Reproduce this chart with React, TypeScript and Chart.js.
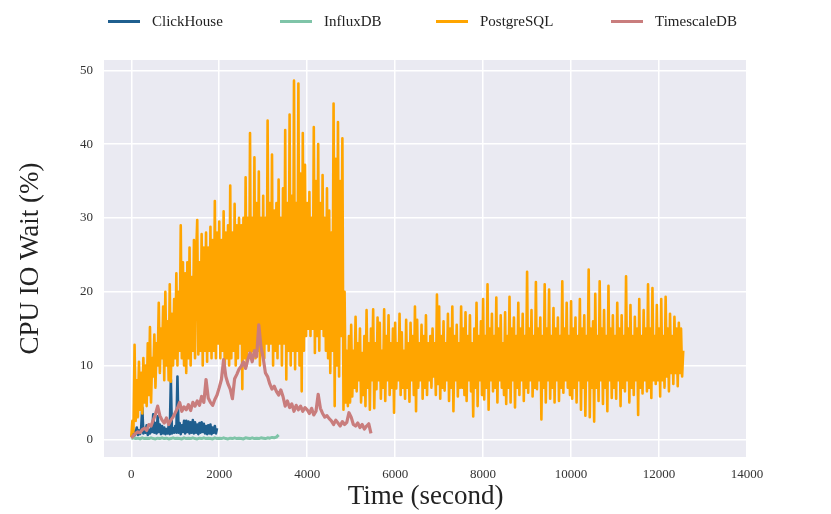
import { useEffect, useRef } from 'react';
import { Chart, registerables } from 'chart.js';

Chart.register(...registerables);

const SERIES_NAMES = ['ClickHouse', 'InfluxDB', 'PostgreSQL', 'TimescaleDB'];
const SERIES_COLORS = ['#1f5f8f', '#7fc4a8', '#ffa500', '#c97d7d'];
// sampling interval (seconds) of each series, in the same order
const SERIES_STEPS = [25, 50, 25, 50];
const SERIES_WIDTHS = [2.6, 3, 2.6, 3.2];

const clickhouse = [
  0.3, 0.8, 1.2, 0.5, 0.9, 1.6, 0.6, 1.2, 0.7, 1.5,
  4.3, 0.8, 1.5, 0.9, 1.9, 0.6, 1.3, 0.8, 1.5, 1.0,
  3.4, 0.9, 2.2, 0.8, 3.1, 1.0, 2.0, 0.7, 1.8, 0.8,
  1.6, 0.7, 1.4, 0.8, 1.8, 0.7, 8.1, 0.8, 1.5, 0.9,
  1.8, 0.9, 8.5, 0.9, 2.2, 0.7, 1.9, 1.0, 2.5, 0.8,
  2.5, 1.0, 2.4, 0.8, 2.3, 0.9, 2.6, 0.8, 2.3, 0.9,
  2.0, 0.7, 2.2, 0.9, 2.3, 1.0, 2.1, 0.8, 1.8, 0.7,
  1.9, 0.8, 2.0, 0.7, 1.6, 0.9, 1.8, 0.8, 1.5,
];

const influxdb = [
  0.1, 0.2, 0.1, 0.15, 0.05, 0.2, 0.1, 0.15, 0.1, 0.2,
  0.1, 0.05, 0.15, 0.1, 0.2, 0.1, 0.15, 0.05, 0.1, 0.2,
  0.1, 0.15, 0.1, 0.05, 0.2, 0.1, 0.15, 0.1, 0.2, 0.1,
  0.05, 0.15, 0.1, 0.2, 0.1, 0.15, 0.1, 0.05, 0.2, 0.1,
  0.15, 0.1, 0.2, 0.1, 0.05, 0.15, 0.1, 0.2, 0.1, 0.15,
  0.1, 0.05, 0.2, 0.15, 0.1, 0.2, 0.1, 0.15, 0.1, 0.2,
  0.15, 0.1, 0.2, 0.15, 0.25, 0.2, 0.3, 0.6,
];

const postgresql = [
  0.3, 2.5, 1.0, 12.8, 2.5, 8, 3, 10.5, 4, 9,
  3.5, 11, 5, 10, 4.5, 13, 6, 15.2, 5, 11,
  8.5, 14.2, 7, 13, 10, 18.5, 9, 15, 11, 18,
  8, 20, 10, 16, 8, 21, 7.8, 17, 10, 19,
  11, 22.5, 10, 20, 12, 29, 11, 24, 10, 22.5,
  9, 24, 11, 26, 10, 22, 12, 27, 11, 25,
  29.7, 11.5, 24, 12, 27.8, 10, 26, 12, 28, 10.5,
  26, 12, 28.8, 11, 27, 12, 32.3, 11, 28, 13,
  29.5, 11, 27, 12, 30.9, 9.5, 28, 11, 29, 10,
  34.4, 11, 28, 12, 31.9, 10, 29, 11, 30, 13,
  29, 6.8, 30, 11, 35.5, 10, 30, 12, 41.5, 11,
  30, 12, 38.2, 11, 32, 12, 36.3, 10, 30, 12,
  33, 11, 30, 13, 43.2, 12, 32, 13, 38.6, 10,
  31, 12, 32, 11, 35.2, 13, 30, 10, 34, 13,
  41.9, 8.1, 32, 12, 44, 10, 33, 12, 48.6, 9.5,
  32, 12, 48.2, 10, 36, 6.5, 41.5, 12, 37.2, 14,
  32, 15, 33.5, 14, 30, 15, 42.3, 11.7, 35, 14,
  40, 12, 32, 15, 35.8, 14, 30, 12, 34, 11,
  31, 9, 28, 12, 45.5, 4.5, 38, 10, 43, 8.5,
  35, 14, 40.8, 4, 20, 5, 12, 4.5, 14, 5,
  15.5, 5.8, 12, 7, 16.6, 6.5, 13, 8, 15, 5,
  11.7, 6, 14, 4.5, 17.5, 7, 13, 4, 15, 8,
  17.6, 4.2, 13, 6.8, 16.5, 8, 15.8, 5.5, 12, 7,
  17.6, 5.2, 14, 8, 16.8, 6, 13, 7, 15, 3.6,
  15.8, 6.9, 13, 8, 17, 6, 14.5, 7, 12, 5.5,
  16.2, 7, 13, 5.1, 15.8, 8, 14, 6, 18, 3.8,
  16.2, 7, 13, 8, 15.5, 5.5, 14, 7, 16.8, 6,
  13, 8, 14, 7, 15, 8.5, 13, 6, 19.6, 7.5,
  18, 5.5, 14, 7, 16, 6.6, 13, 8, 17, 5.2,
  15, 7, 18, 3.8, 14, 8, 15.5, 5.8, 13, 7,
  18, 7, 15, 6, 17.2, 5.2, 14, 8, 16.8, 6.5,
  13, 3.1, 15, 7, 18.5, 4.5, 14, 8, 16, 6,
  19, 5.4, 14, 7, 21, 4, 15, 8, 17, 6.5,
  14, 7, 19.2, 5, 15, 8, 16.8, 7, 13, 6,
  17.2, 4.8, 14, 7, 19.3, 5, 15, 8, 16.5, 4.3,
  14, 7, 18.5, 6, 15, 8, 17, 5.2, 14, 7,
  22.7, 6.3, 15, 8, 17.5, 5.8, 14, 7, 21.3, 6.8,
  15, 8, 16.5, 2.7, 14, 7, 21, 5, 15, 8,
  20.3, 5.5, 14, 7, 17.8, 5, 15, 8, 16.5, 5.2,
  14, 7, 21.4, 6.3, 15, 8, 18.5, 7, 14, 6,
  18.7, 5.5, 15, 7, 16.5, 5, 14, 8, 19, 4,
  15, 7, 16.8, 3.2, 14, 8, 23, 3, 15, 7,
  16, 2.4, 19.7, 7, 14, 5.2, 21.4, 8, 15, 4.8,
  17.5, 7, 14, 3.8, 20.8, 8, 15, 5.6, 16.8, 7,
  14, 5.5, 18.5, 8, 15, 4.5, 16.8, 7, 14, 6.5,
  22.1, 8, 15, 5, 18.2, 7, 14, 6, 16.6, 8,
  15, 3.3, 19, 7, 14, 6.2, 17.5, 8, 15, 6.5,
  21, 7, 15, 5.6, 20.5, 8, 14, 7.5, 18.2, 8,
  15, 5.8, 19, 8, 14, 7, 19.3, 8.5, 15, 6.5,
  17, 9, 14, 7.5, 16.6, 9, 15, 7.2, 15.8, 9,
  15, 8.5, 12,
];

const timescaledb = [
  0.2, 0.5, 0.8, 1.0, 0.9, 1.3, 1.5, 1.2, 2.0, 1.8,
  2.6, 3.4, 4.5, 3.2, 2.6, 2.2, 2.9, 2.0, 2.6, 3.0,
  3.6, 4.2, 5.0, 3.8, 4.4, 4.0, 4.7, 3.9, 5.0, 4.5,
  5.2, 4.6, 5.8, 5.0, 8.1, 5.6, 5.0, 4.6, 5.4, 6.0,
  7.0, 8.1, 10.8, 8.5, 7.5, 6.8, 5.5, 8.2, 8.8, 9.5,
  9.9, 10.5, 9.6, 10.8, 11.7, 10.5, 12.0, 11.2, 15.5, 12.5,
  11.0, 9.0, 8.5, 7.5, 6.8, 7.2, 6.5, 6.0, 6.7, 5.8,
  4.5, 5.2, 4.3, 4.8, 3.8, 4.6, 4.0, 4.5, 3.8, 4.3,
  4.0, 3.5, 4.2, 3.3, 3.8, 6.1, 4.2, 3.5, 3.0, 3.2,
  2.8, 2.5, 2.0, 2.6, 2.2, 1.8, 2.4, 2.0, 2.3, 3.6,
  3.0, 2.0, 1.8, 2.2, 1.6, 2.0, 1.4, 1.8, 2.1, 0.8,
];

const SERIES_VALUES = [clickhouse, influxdb, postgresql, timescaledb];
const X_TICKS = [0, 2000, 4000, 6000, 8000, 10000, 12000, 14000];
const Y_TICKS = [0, 10, 20, 30, 40, 50];
const X_TITLE = 'Time (second)';
const Y_TITLE = 'CPU IO Wait (%)';

const FONT = '"Liberation Serif", "DejaVu Serif", serif';
const LEGEND_LEFTS = [108, 280, 436, 611];

const bgPlugin = {
  id: 'plotBackground',
  beforeDraw(chart: any) {
    const { ctx, chartArea } = chart;
    if (!chartArea) return;
    ctx.save();
    ctx.fillStyle = '#EAEAF2';
    ctx.fillRect(chartArea.left, chartArea.top, chartArea.right - chartArea.left, chartArea.bottom - chartArea.top);
    ctx.restore();
  },
};

export default function App() {
  const canvasRef = useRef<HTMLCanvasElement | null>(null);

  useEffect(() => {
    if (!canvasRef.current) return;
    const datasets = SERIES_NAMES.map((name, k) => ({
      label: name,
      data: SERIES_VALUES[k].map((v, i) => ({ x: i * SERIES_STEPS[k], y: v })),
      borderColor: SERIES_COLORS[k],
      backgroundColor: SERIES_COLORS[k],
      borderWidth: SERIES_WIDTHS[k],
      pointRadius: 0,
      borderJoinStyle: 'round' as const,
      tension: 0,
      order: [3, 2, 1, 0][k],
    }));
    const chart = new Chart(canvasRef.current, {
      type: 'line',
      data: { datasets },
      options: {
        animation: false,
        responsive: false,
        layout: { padding: { top: 60, right: 84, left: 0, bottom: 0 } },
        plugins: { legend: { display: false }, tooltip: { enabled: false } },
        scales: {
          x: {
            type: 'linear',
            min: -620,
            max: 14000,
            afterFit: (s: any) => { s.height = 57; },
            afterBuildTicks: (s: any) => { s.ticks = X_TICKS.map((v) => ({ value: v })); },
            grid: { color: '#ffffff', lineWidth: 1.5, drawTicks: false },
            border: { display: false },
            ticks: {
              padding: 10, color: '#333', font: { family: FONT, size: 13 }, maxRotation: 0, autoSkip: false,
              callback: (v: any) => String(v),
            },
            title: { display: true, text: X_TITLE, color: '#222', font: { family: FONT, size: 27 }, padding: { top: 0, bottom: 1 } },
          },
          y: {
            type: 'linear',
            min: -2.4,
            max: 51.4,
            afterFit: (s: any) => { s.width = 104; },
            afterBuildTicks: (s: any) => { s.ticks = Y_TICKS.map((v) => ({ value: v })); },
            grid: { color: '#ffffff', lineWidth: 1.5, drawTicks: false },
            border: { display: false },
            ticks: { padding: 11, color: '#333', font: { family: FONT, size: 13 }, callback: (v: any) => String(v) },
            title: { display: true, text: Y_TITLE, color: '#222', font: { family: FONT, size: 27 }, padding: { top: 15, bottom: 0 } },
          },
        },
      },
      plugins: [bgPlugin],
    });
    return () => chart.destroy();
  }, []);

  return (
    <div style={{ position: 'fixed', left: 0, top: 0, width: 831, height: 514, background: '#fff' }}>
      <canvas ref={canvasRef} width={831} height={514} style={{ display: 'block' }} />
      {SERIES_NAMES.map((name, k) => (
        <div key={name} style={{ position: 'absolute', left: LEGEND_LEFTS[k], top: 11, height: 20, display: 'flex', alignItems: 'center' }}>
          <div style={{ width: 32, height: 3, background: SERIES_COLORS[k] }} />
          <span style={{ marginLeft: 12, fontFamily: FONT, fontSize: 15, color: '#222', lineHeight: '20px' }}>{name}</span>
        </div>
      ))}
    </div>
  );
}
